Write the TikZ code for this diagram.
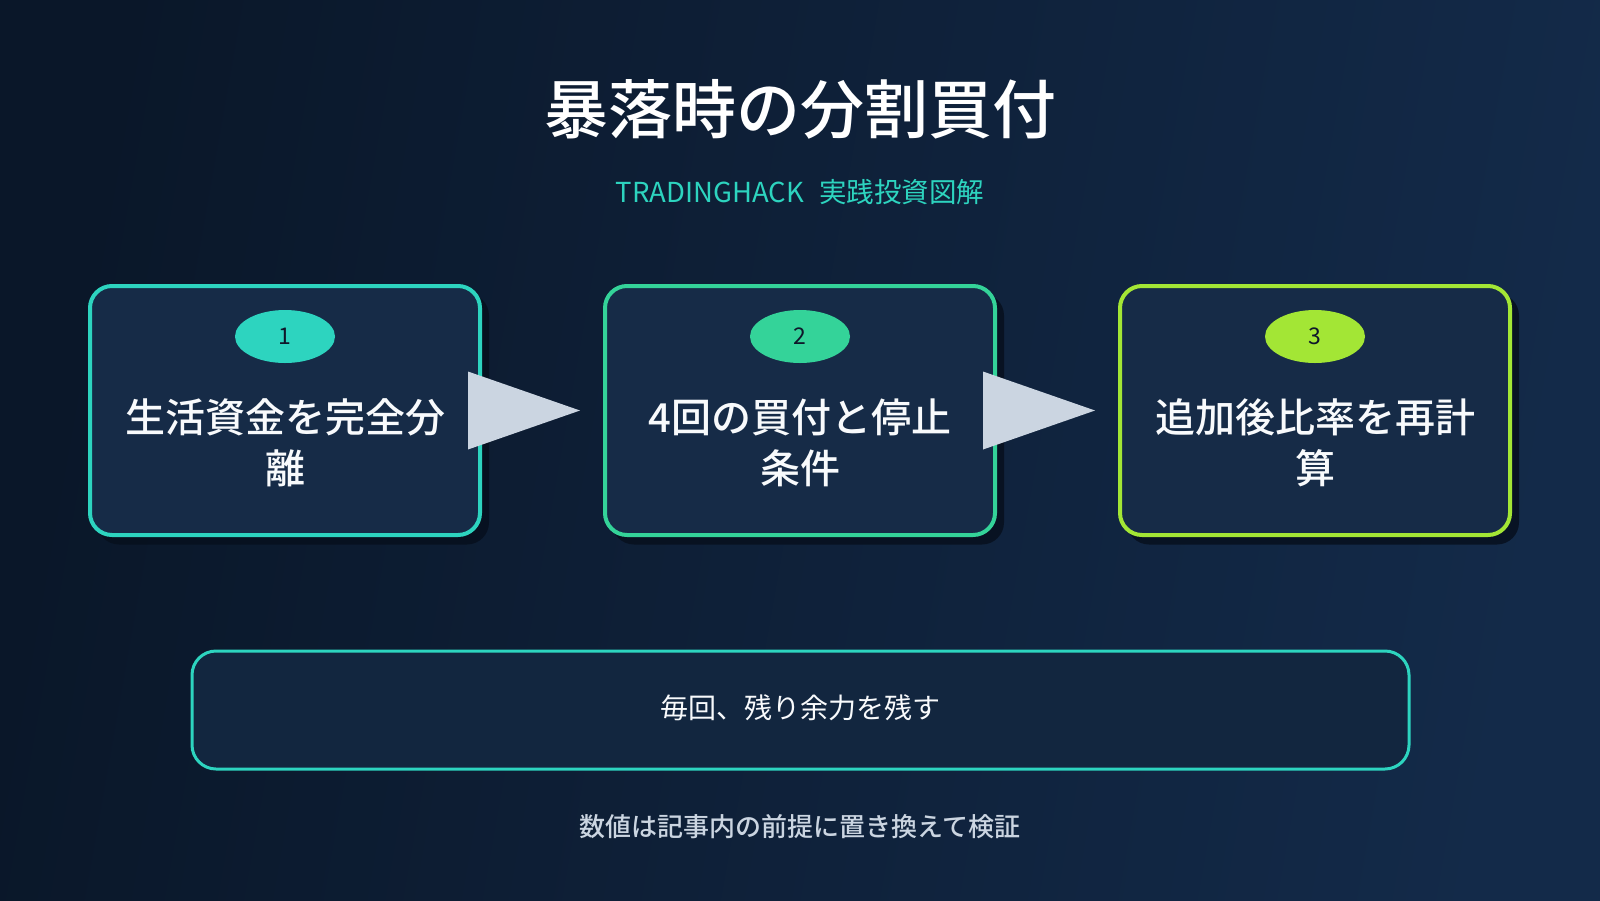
\documentclass[tikz,border=0pt]{standalone}
\usepackage{fontspec}
\setmainfont{Noto Sans CJK JP}
\newfontfamily\medfont{Noto Sans CJK JP Medium}
\usetikzlibrary{calc,shapes.geometric}
\definecolor{bgL}{HTML}{0A1729}
\definecolor{bgR}{HTML}{132A49}
\definecolor{boxfill}{HTML}{162B47}
\definecolor{shadowc}{HTML}{07101E}
\definecolor{cteal}{HTML}{2DD4BF}
\definecolor{cgreen}{HTML}{34D399}
\definecolor{clime}{HTML}{A3E635}
\definecolor{arrowc}{HTML}{CBD5E1}
\definecolor{txtw}{HTML}{F8FAFC}
\definecolor{txtg}{HTML}{CBD5E1}
\definecolor{darkt}{HTML}{0F172A}
\definecolor{notefill}{HTML}{12263F}
\tikzset{
  stepbox/.style={draw=#1, line width=4pt, fill=boxfill, rounded corners=22pt,
    minimum width=390pt, minimum height=249pt, inner sep=0pt},
  shadowbox/.style={fill=shadowc, rounded corners=22pt, minimum width=392pt,
    minimum height=251pt, inner sep=0pt, opacity=0.85},
  badge/.style={ellipse, fill=#1, minimum width=100pt, minimum height=53pt,
    inner sep=0pt, text=darkt, font=\fontsize{23}{26}\selectfont},
  steptext/.style={text=txtw, align=center, font=\fontsize{40}{51}\medfont},
  notebox/.style={draw=cteal, line width=3pt, fill=notefill, rounded corners=24pt,
    minimum width=1217pt, minimum height=118pt, inner sep=0pt},
}
\begin{document}
\begin{tikzpicture}[x=1pt,y=-1pt]
\useasboundingbox (0,0) rectangle (1600,900);
\shade[left color=bgL, right color=bgR, shading angle=80] (0,0) rectangle (1600,900);

\node[text=white, font=\fontsize{64}{70}\medfont] (title) at (800,109) {暴落時の分割買付};
\node[text=cteal, font=\fontsize{27.5}{30}\selectfont] (sub) at (800,192) {TRADINGHACK\hspace{15pt}実践投資図解};

% shadows
\node[shadowbox] (s1) at (293,419) {};
\node[shadowbox] (s2) at (808,419) {};
\node[shadowbox] (s3) at (1323,419) {};

% boxes
\node[stepbox=cteal] (b1) at (285,410.5) {};
\node[stepbox=cgreen] (b2) at (800,410.5) {};
\node[stepbox=clime] (b3) at (1315,410.5) {};

\node[badge=cteal] (n1) at ($(b1.center)+(0,-74)$) {1};
\node[badge=cgreen] (n2) at ($(b2.center)+(0,-74)$) {2};
\node[badge=clime] (n3) at ($(b3.center)+(0,-74)$) {3};

\node[steptext] (t1) at ($(b1.center)+(0,32)$) {生活資金を完全分\\離};
\node[steptext] (t2) at ($(b2.center)+(0,32)$) {4回の買付と停止\\条件};
\node[steptext] (t3) at ($(b3.center)+(0,32)$) {追加後比率を再計\\算};

% arrows
\fill[arrowc] ($(b1.east)+(-14,-39)$) -- ($(b1.east)+(98,0)$) -- ($(b1.east)+(-14,39)$) -- cycle;
\fill[arrowc] ($(b2.east)+(-14,-39)$) -- ($(b2.east)+(98,0)$) -- ($(b2.east)+(-14,39)$) -- cycle;

% note
\node[notebox] (note) at (800.5,710) {};
\node[text=txtw, font=\fontsize{28}{32}\selectfont] (notet) at (800,708) {毎回、残り余力を残す};

\node[text=txtg, font=\fontsize{26}{30}\medfont] (foot) at (800,827) {数値は記事内の前提に置き換えて検証};
\end{tikzpicture}
\end{document}
